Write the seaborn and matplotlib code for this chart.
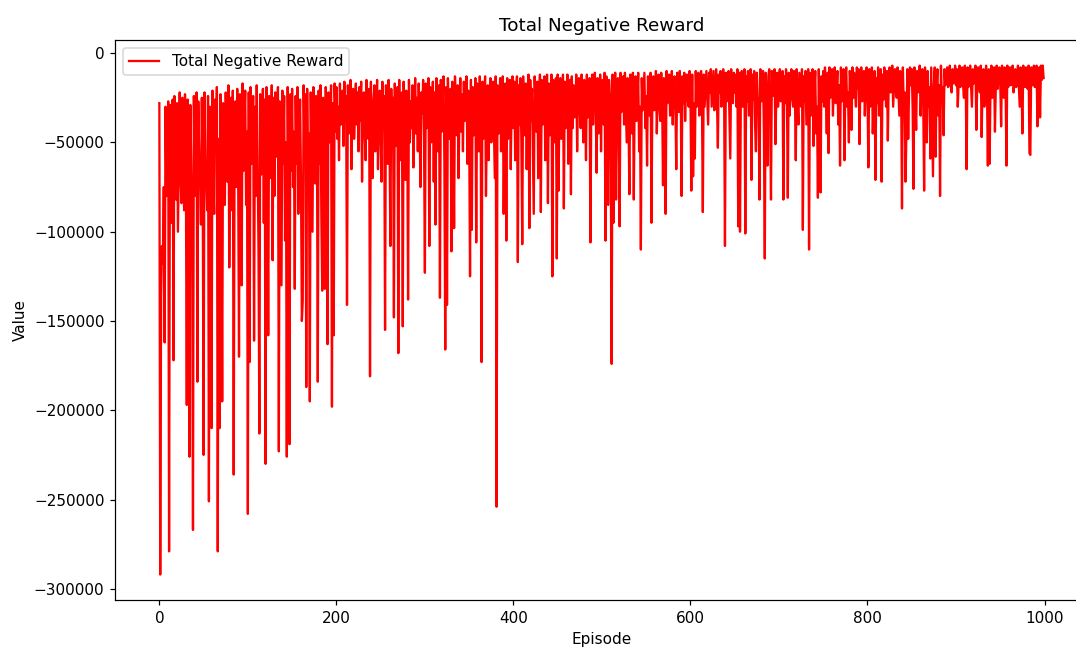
import numpy as np
import matplotlib
matplotlib.use("Agg")
import matplotlib.pyplot as plt
import seaborn as sns

TITLE = "Total Negative Reward"
X_LABEL = "Episode"
Y_LABEL = "Value"
SERIES_LABEL = "Total Negative Reward"

# total negative reward per episode (in thousands)
reward_k = [
    -28, -292, -136, -108, -118, -75, -162, -30, -80, -65, -27, -279, -29, -70, -95, -26, -172, -24, -68, -82, -28, -100, -62, -22, -70,
    -84, -25, -66, -88, -23, -72, -197, -26, -85, -226, -29, -64, -95, -267, -24, -80, -76, -22, -184, -27, -58, -66, -96, -25, -74,
    -225, -22, -68, -70, -88, -24, -251, -30, -62, -210, -21, -75, -90, -26, -52, -19, -279, -48, -210, -23, -64, -195, -28, -55, -85,
    -22, -60, -72, -18, -120, -58, -25, -88, -21, -236, -47, -27, -75, -20, -62, -170, -23, -54, -130, -17, -66, -40, -21, -85, -44,
    -258, -22, -173, -19, -62, -45, -24, -161, -30, -80, -18, -58, -110, -213, -23, -68, -42, -20, -95, -26, -230, -19, -64, -158, -24,
    -70, -48, -18, -116, -25, -80, -22, -58, -40, -19, -223, -27, -78, -130, -21, -62, -24, -105, -50, -226, -19, -95, -219, -23, -66,
    -20, -75, -44, -132, -24, -62, -19, -90, -48, -26, -70, -150, -139, -18, -57, -23, -187, -20, -72, -45, -195, -22, -60, -100, -19,
    -52, -73, -24, -42, -184, -21, -62, -18, -90, -133, -25, -47, -132, -19, -58, -163, -22, -50, -36, -18, -198, -28, -158, -17, -44,
    -19, -48, -30, -60, -17, -40, -34, -21, -52, -16, -38, -24, -141, -18, -45, -33, -15, -65, -27, -20, -48, -35, -17, -40, -22,
    -55, -19, -38, -16, -72, -30, -22, -44, -60, -15, -34, -48, -20, -181, -16, -45, -70, -26, -18, -55, -40, -15, -65, -30, -21,
    -50, -72, -16, -42, -24, -155, -18, -38, -62, -15, -46, -108, -20, -42, -25, -148, -17, -52, -36, -19, -168, -15, -60, -38, -22,
    -153, -16, -47, -71, -21, -32, -138, -15, -50, -27, -42, -18, -64, -36, -14, -45, -25, -55, -17, -40, -75, -22, -34, -15, -48,
    -123, -17, -42, -30, -14, -108, -19, -50, -35, -16, -72, -22, -96, -14, -40, -55, -18, -137, -15, -44, -30, -13, -60, -166, -19,
    -141, -14, -38, -48, -20, -111, -16, -42, -98, -13, -32, -46, -18, -70, -34, -14, -44, -23, -55, -16, -38, -30, -13, -62, -21,
    -40, -125, -15, -99, -19, -46, -33, -14, -106, -17, -42, -55, -13, -35, -173, -16, -48, -28, -13, -80, -40, -18, -60, -26, -14,
    -50, -38, -16, -44, -70, -13, -254, -18, -45, -32, -14, -55, -24, -13, -90, -40, -17, -105, -14, -48, -33, -15, -65, -28, -13,
    -42, -16, -60, -30, -13, -117, -18, -40, -14, -50, -107, -13, -34, -46, -17, -65, -25, -12, -98, -15, -38, -20, -55, -90, -13,
    -32, -44, -16, -70, -24, -12, -89, -15, -40, -28, -13, -60, -34, -12, -84, -17, -46, -26, -12, -125, -15, -50, -38, -14, -115,
    -12, -77, -26, -14, -48, -33, -12, -87, -16, -42, -24, -12, -62, -30, -15, -79, -13, -42, -18, -36, -28, -12, -55, -22, -14,
    -32, -42, -12, -28, -50, -15, -30, -60, -12, -36, -25, -14, -106, -28, -12, -40, -22, -11, -32, -67, -14, -45, -26, -12, -55,
    -15, -30, -40, -11, -105, -13, -32, -85, -15, -24, -60, -174, -12, -95, -28, -11, -82, -24, -14, -45, -97, -11, -33, -26, -13,
    -40, -11, -30, -50, -14, -36, -79, -12, -28, -45, -11, -82, -24, -13, -38, -26, -11, -55, -30, -110, -14, -32, -22, -11, -42,
    -24, -63, -13, -28, -35, -11, -95, -22, -13, -32, -25, -10, -45, -24, -12, -30, -38, -11, -24, -74, -14, -32, -90, -10, -28,
    -22, -12, -35, -26, -10, -40, -18, -13, -30, -65, -11, -24, -33, -10, -22, -80, -13, -28, -11, -38, -20, -12, -26, -30, -10,
    -24, -77, -12, -69, -28, -59, -10, -30, -22, -11, -35, -24, -10, -28, -89, -12, -30, -20, -10, -26, -40, -11, -22, -9, -30,
    -20, -10, -32, -24, -9, -27, -53, -12, -22, -10, -30, -25, -9, -20, -108, -11, -27, -22, -10, -35, -59, -9, -24, -28, -11,
    -22, -12, -30, -9, -97, -11, -100, -20, -10, -30, -24, -9, -101, -13, -27, -10, -35, -22, -9, -71, -12, -26, -10, -40, -55,
    -11, -24, -30, -82, -9, -27, -20, -10, -45, -115, -11, -28, -63, -13, -9, -35, -82, -10, -24, -20, -9, -51, -25, -11, -30,
    -14, -9, -27, -22, -10, -82, -13, -28, -9, -24, -81, -11, -35, -20, -9, -25, -30, -10, -22, -60, -9, -27, -40, -11, -20,
    -30, -9, -99, -13, -27, -10, -40, -24, -9, -110, -11, -35, -25, -9, -52, -22, -10, -45, -30, -81, -9, -38, -78, -13, -27,
    -10, -30, -8, -22, -45, -11, -56, -8, -25, -20, -9, -35, -15, -8, -28, -22, -10, -40, -18, -63, -8, -27, -22, -9, -60,
    -14, -8, -30, -22, -50, -10, -18, -43, -8, -25, -11, -22, -30, -8, -20, -9, -51, -15, -8, -27, -22, -10, -35, -19, -8,
    -22, -64, -9, -30, -18, -8, -45, -24, -10, -71, -14, -28, -8, -35, -20, -9, -72, -12, -26, -8, -18, -30, -10, -49, -15,
    -8, -22, -18, -7, -30, -20, -9, -15, -25, -8, -22, -35, -10, -18, -87, -8, -30, -22, -72, -45, -9, -48, -20, -8, -18,
    -9, -30, -76, -8, -20, -43, -10, -22, -18, -7, -35, -20, -9, -28, -77, -8, -22, -50, -10, -30, -19, -59, -8, -40, -69,
    -18, -8, -58, -20, -9, -35, -18, -80, -7, -25, -19, -46, -9, -18, -14, -8, -19, -17, -7, -18, -22, -9, -17, -15, -7,
    -18, -9, -30, -17, -7, -19, -15, -8, -18, -25, -7, -17, -65, -8, -19, -14, -7, -18, -30, -9, -17, -15, -7, -43, -18,
    -8, -17, -22, -7, -47, -18, -9, -30, -17, -7, -19, -63, -9, -62, -18, -7, -25, -17, -8, -44, -18, -7, -20, -15, -8,
    -17, -41, -7, -18, -25, -8, -17, -63, -7, -19, -15, -8, -18, -17, -7, -22, -17, -9, -19, -16, -7, -18, -30, -8, -17,
    -45, -7, -18, -19, -8, -17, -20, -7, -56, -57, -8, -18, -17, -7, -19, -15, -7, -41, -17, -8, -36, -7, -15, -7, -14,
]

reward = np.array(reward_k) * 1000
episodes = np.arange(len(reward))

# the original was rendered a bit larger and cropped on the right
fig = plt.figure(figsize=(1076 / 110, 648 / 110), dpi=110)
ax = fig.add_axes([0.107, 0.074, 0.904, 0.864])

sns.lineplot(x=episodes, y=reward, color="red", label=SERIES_LABEL, ax=ax)

ax.set_title(TITLE)
ax.set_xlabel(X_LABEL)
ax.set_ylabel(Y_LABEL)
ax.legend(loc="upper left")

fig.savefig("out.png", dpi=110)
